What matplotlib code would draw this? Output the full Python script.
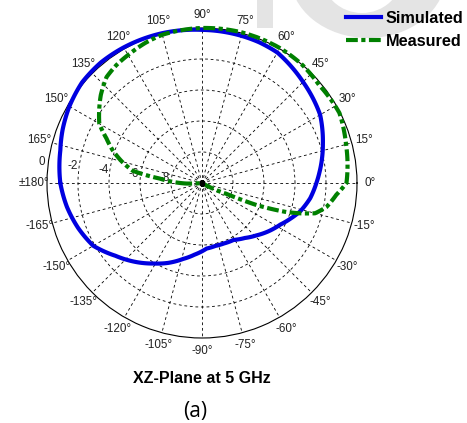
import numpy as np
import matplotlib
matplotlib.use("Agg")
import matplotlib.pyplot as plt
from matplotlib.patches import Ellipse, Rectangle
from matplotlib.lines import Line2D

plt.rcParams['font.family'] = ['Liberation Sans', 'DejaVu Sans']
plt.rcParams['lines.scale_dashes'] = False

# Simulated gain pattern (dB) versus angle (deg)
sim_deg = [-180, -170, -160, -150, -140, -130, -121, -113, -104, -96, -86,
           -78, -70, -61, -52, -44, -36, -28, -22, -16, -8, 0, 5, 18, 30, 45,
           52, 60, 68, 75, 90, 105, 120, 130, 140, 150, 159, 167, 180]
sim_db = [-0.86, -1.15, -1.5, -1.9, -2.7, -3.35, -3.94, -4.4, -4.95, -5.35,
          -5.76, -5.85, -5.85, -5.8, -5.5, -5.13, -4.7, -4.28, -3.85, -3.4,
          -2.95, -2.62, -2.4, -1.8, -1.2, -0.78, -0.55, -0.28, -0.2, -0.17,
          -0.12, 0.0, 0.1, 0.15, 0.1, -0.12, -0.37, -0.62, -0.86]

# Measured gain pattern (dB); values at the -10 dB floor sit at the centre
meas_deg = [-180, -178, -175, -30, -24, -22, -19, -17, -15, -11, -5, 0, 15,
            27, 40, 50, 60, 75, 90, 105, 112, 119, 126, 132, 139, 145, 150,
            155, 160, 165, 170, 174, 180]
meas_db = [-8.6, -9.0, -10.0, -10.0, -8.3, -6.2, -4.25, -3.3, -2.45, -1.83,
           -1.3, -0.68, -0.38, -0.05, -0.15, 0.0, 0.05, 0.05, 0.0, -0.1,
           -0.25, -0.44, -0.6, -0.8, -1.35, -1.9, -2.35, -3.2, -3.88, -4.65,
           -5.47, -7.26, -8.6]

series_names = ['Simulated', 'Measured']
r_min, r_max = -10, 0
ring_values = [-8, -6, -4, -2]
ring_label_values = [-8, -6, -4, -2, 0]
angle_ticks = list(range(0, 360, 15))
title_text = 'XZ-Plane at 5 GHz'
caption_text = '(a)'

W, H = 467, 423
fig = plt.figure(figsize=(W / 100, H / 100), dpi=100)

# light background lettering in the upper right corner
bg = fig.add_axes([0, 0, 1, 1], zorder=-1)
bg.set_xlim(0, W)
bg.set_ylim(H, 0)
bg.axis('off')
bg.add_patch(Rectangle((257, -5), 16, 33, color='#e4e4e4', lw=0))
bg.add_patch(Ellipse((368, -25), 156, 126, color='#e4e4e4', lw=0))
bg.add_patch(Ellipse((362, -25), 80, 76, color='white', lw=0))

cx, cy, R = 202, 183, 155
ax = fig.add_axes([(cx - R) / W, (H - cy - R) / H, 2 * R / W, 2 * R / H],
                  projection='polar')
ax.set_rlim(r_min, r_max)
ax.set_rticks(ring_values)
ax.set_yticklabels([])
ax.set_thetagrids(angle_ticks, labels=[''] * len(angle_ticks))
ax.grid(True, color='black', linewidth=0.6, linestyle=(0, (2.0, 2.0)))
ax.spines['polar'].set_linewidth(0.8)
ax.spines['polar'].set_color('black')
ax.tick_params(pad=0, length=0)

# angle labels around the rim
for a in angle_ticks:
    v = a if a <= 180 else a - 360
    txt = '\u00b1180\u00b0' if v == 180 else f'{v}\u00b0'
    ax.text(np.deg2rad(a), r_max + 0.84, txt, ha='center', va='center',
            fontsize=8.4, color='#222222', clip_on=False)

# ring value labels
for v in ring_label_values:
    ax.text(np.deg2rad(172.5), v + 0.42, f'{v}', ha='center', va='center',
            fontsize=8.4, color='#222222', clip_on=False)

blue = '#0000e0'
green = '#008000'
dash_dot = (0, (8.5, 2.5, 3.0, 2.5))
l1, = ax.plot(np.deg2rad(sim_deg), sim_db, color=blue, lw=3.0,
              clip_on=False, solid_capstyle='round', solid_joinstyle='round',
              zorder=4)
l2, = ax.plot(np.deg2rad(meas_deg), meas_db, color=green, lw=3.0,
              linestyle=dash_dot, clip_on=False, zorder=5)
# follow the polar grid between samples (arcs instead of chords)
for ln in (l1, l2):
    ln.get_path()._interpolation_steps = 40
ax.plot(0, r_min, 's', color='black', ms=3.5, zorder=6)

leg_handles = [Line2D([], [], color=blue, lw=3.0),
               Line2D([], [], color=green, lw=3.0, linestyle=dash_dot)]
fig.legend(leg_handles, series_names, loc='upper left',
           bbox_to_anchor=(346 / W, 1 - 11 / H), frameon=False,
           prop={'weight': 'bold', 'size': 11.7}, handlelength=2.15,
           handletextpad=0.3, borderpad=0, borderaxespad=0, labelspacing=0.48)

fig.text(201.7 / W, 1 - 378 / H, title_text, ha='center', va='center',
         fontsize=11.5, fontweight='bold')
fig.text(195 / W, 1 - 411 / H, caption_text, ha='center', va='center',
         fontsize=15, family=['Open Sans', 'DejaVu Sans'])

fig.savefig('out.png', dpi=100)
